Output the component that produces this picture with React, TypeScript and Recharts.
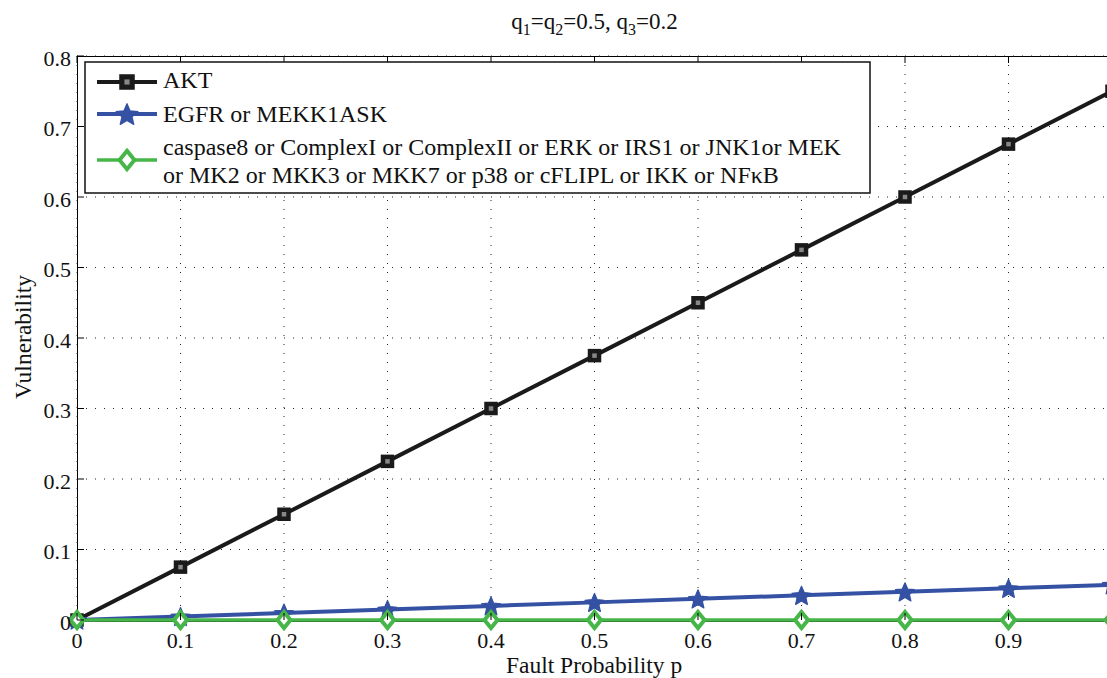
import React from "react";
import { LineChart, Line, XAxis, YAxis, CartesianGrid } from "recharts";

const pValues = [0, 0.1, 0.2, 0.3, 0.4, 0.5, 0.6, 0.7, 0.8, 0.9, 1.0];
const aktValues = [0, 0.075, 0.15, 0.225, 0.3, 0.375, 0.45, 0.525, 0.6, 0.675, 0.75];
const egfrValues = [0, 0.005, 0.01, 0.015, 0.02, 0.025, 0.03, 0.035, 0.04, 0.045, 0.05];
const caspaseValues = [0, 0, 0, 0, 0, 0, 0, 0, 0, 0, 0];
const xTicks = [0, 0.1, 0.2, 0.3, 0.4, 0.5, 0.6, 0.7, 0.8, 0.9, 1.0];
const yTicks = [0, 0.1, 0.2, 0.3, 0.4, 0.5, 0.6, 0.7, 0.8];
const seriesNames = [
  ["AKT"],
  ["EGFR or MEKK1ASK"],
  [
    "caspase8 or ComplexI or ComplexII or ERK or IRS1 or JNK1or MEK",
    "or MK2 or MKK3 or MKK7 or p38 or cFLIPL or IKK or NF\u03baB",
  ],
];

const data = pValues.map((p, i) => ({
  p,
  akt: aktValues[i],
  egfr: egfrValues[i],
  casp: caspaseValues[i],
}));

const FONT = "'Liberation Serif', 'Times New Roman', serif";
const BLACK = "#1a1a1a";
const BLUE = "#3451a3";
const GREEN = "#46b649";

const PLOT_LEFT = 77;
const PLOT_TOP = 56;
const PLOT_BOTTOM = 620;
const PLOT_RIGHT = 1112;
const CHART_W = 1130;
const CHART_H = 678;

const Square = ({ cx, cy, s = 1 }: any) => (
  <rect
    x={cx - 4.5 * s}
    y={cy - 4.5 * s}
    width={9 * s}
    height={9 * s}
    fill="#888"
    stroke={BLACK}
    strokeWidth={4.5 * s}
  />
);

const starPath = (cx: number, cy: number, R: number, r: number) => {
  let d = "";
  for (let k = 0; k < 10; k++) {
    const rad = k % 2 === 0 ? R : r;
    const a = -Math.PI / 2 + (k * Math.PI) / 5;
    d += (k === 0 ? "M" : "L") + (cx + rad * Math.cos(a)).toFixed(2) + "," + (cy + rad * Math.sin(a)).toFixed(2);
  }
  return d + "Z";
};

const Star = ({ cx, cy, s = 1 }: any) => (
  <path d={starPath(cx, cy + 1 * s, 10 * s, 4.6 * s)} fill={BLUE} stroke={BLUE} strokeWidth={1.2} strokeLinejoin="round" />
);

const Diamond = ({ cx, cy, s = 1 }: any) => (
  <path
    d={`M${cx},${cy - 8 * s}L${cx + 6.5 * s},${cy}L${cx},${cy + 8 * s}L${cx - 6.5 * s},${cy}Z`}
    fill="#fff"
    stroke={GREEN}
    strokeWidth={4}
  />
);

const XTick = ({ x, payload }: any) => (
  <g>
    <line x1={x} x2={x} y1={PLOT_BOTTOM} y2={PLOT_BOTTOM - 7} stroke="#000" strokeWidth={1} />
    <line x1={x} x2={x} y1={PLOT_TOP} y2={PLOT_TOP + 7} stroke="#000" strokeWidth={1} />
    {payload.value < 1 && (
      <text x={x} y={PLOT_BOTTOM + 28} textAnchor="middle" fontFamily={FONT} fontSize={22} fill="#111">
        {String(payload.value)}
      </text>
    )}
  </g>
);

const YTick = ({ y, payload }: any) => (
  <g>
    <line x1={PLOT_LEFT} x2={PLOT_LEFT + 7} y1={y} y2={y} stroke="#000" strokeWidth={1} />
    <text x={PLOT_LEFT - 6} y={y + 9.5} textAnchor="end" fontFamily={FONT} fontSize={22} fill="#111">
      {String(payload.value)}
    </text>
  </g>
);

const markers = [Square, Star, Diamond];
const colors = [BLACK, BLUE, GREEN];
const legendSampleY = [82, 114, 160];
const legendBaselines = [[88], [122], [155, 183]];

export default function App() {
  return (
    <div
      style={{
        position: "absolute",
        left: 0,
        top: 0,
        width: 1107,
        height: 678,
        overflow: "hidden",
        background: "#fff",
      }}
    >
      {/* axes frame, behind the plotted lines */}
      <div
        style={{
          position: "absolute",
          left: PLOT_LEFT - 0.5,
          top: PLOT_TOP - 0.5,
          width: PLOT_RIGHT - PLOT_LEFT,
          height: PLOT_BOTTOM - PLOT_TOP,
          border: "1px solid #000",
          boxSizing: "content-box",
        }}
      />
      <div style={{ position: "absolute", left: 0, top: 0 }}>
        <LineChart
          width={CHART_W}
          height={CHART_H}
          data={data}
          margin={{ top: PLOT_TOP, right: CHART_W - PLOT_RIGHT, left: 0, bottom: 0 }}
        >
          <CartesianGrid stroke="#222" strokeDasharray="1 8" strokeWidth={1} />
          <XAxis
            dataKey="p"
            type="number"
            domain={[0, 1]}
            ticks={xTicks}
            tick={<XTick />}
            tickLine={false}
            axisLine={false}
            height={CHART_H - PLOT_BOTTOM}
            interval={0}
          />
          <YAxis
            type="number"
            domain={[0, 0.8]}
            ticks={yTicks}
            tick={<YTick />}
            tickLine={false}
            axisLine={false}
            width={PLOT_LEFT}
            interval={0}
          />
          <Line
            dataKey="akt"
            stroke={BLACK}
            strokeWidth={4}
            dot={(props: any) => <Square key={"a" + props.index} cx={props.cx} cy={props.cy} />}
            isAnimationActive={false}
          />
          <Line
            dataKey="egfr"
            stroke={BLUE}
            strokeWidth={4}
            dot={(props: any) => <Star key={"e" + props.index} cx={props.cx} cy={props.cy} />}
            isAnimationActive={false}
          />
          <Line
            dataKey="casp"
            stroke={GREEN}
            strokeWidth={3.5}
            dot={(props: any) => <Diamond key={"c" + props.index} cx={props.cx} cy={props.cy} />}
            isAnimationActive={false}
          />
        </LineChart>
      </div>
      <svg
        width={1107}
        height={678}
        style={{ position: "absolute", left: 0, top: 0, pointerEvents: "none" }}
      >
        {/* legend */}
        <rect x={85} y={62} width={785} height={131} fill="#fff" stroke="#111" strokeWidth={1.5} />
        {seriesNames.map((lines, i) => {
          const M = markers[i];
          return (
            <g key={i}>
              <line
                x1={97}
                x2={157}
                y1={legendSampleY[i]}
                y2={legendSampleY[i]}
                stroke={colors[i]}
                strokeWidth={i === 2 ? 3.5 : 4}
              />
              <M cx={127} cy={legendSampleY[i]} s={1.15} />
              {lines.map((l, j) => (
                <text
                  key={j}
                  x={163}
                  y={legendBaselines[i][j]}
                  fontFamily={FONT}
                  fontSize={24}
                  fill="#111"
                >
                  {l}
                </text>
              ))}
            </g>
          );
        })}
        {/* title */}
        <text x={594.5} y={29} textAnchor="middle" fontFamily={FONT} fontSize={23} fill="#111">
          q<tspan fontSize={16} dy={6}>1</tspan>
          <tspan dy={-6}>=q</tspan>
          <tspan fontSize={16} dy={6}>2</tspan>
          <tspan dy={-6}>=0.5, q</tspan>
          <tspan fontSize={16} dy={6}>3</tspan>
          <tspan dy={-6}>=0.2</tspan>
        </text>
        {/* x label */}
        <text x={594} y={673} textAnchor="middle" fontFamily={FONT} fontSize={23.5} fill="#111">
          Fault Probability p
        </text>
        {/* y label */}
        <text
          x={0}
          y={0}
          transform="translate(31,337) rotate(-90)"
          textAnchor="middle"
          fontFamily={FONT}
          fontSize={23.5}
          fill="#111"
        >
          Vulnerability
        </text>
      </svg>
    </div>
  );
}
